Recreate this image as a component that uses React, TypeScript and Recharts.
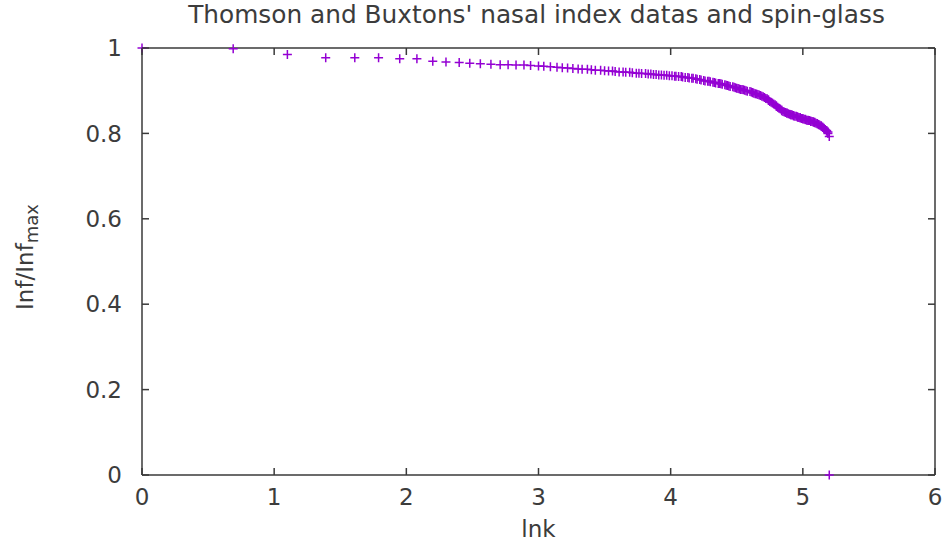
import { ScatterChart, Scatter, XAxis, YAxis } from "recharts";

// ln k for each ranked entry
const lnK = [
  0, 0.69, 1.1, 1.39, 1.61, 1.79, 1.95, 2.08, 2.2, 2.3,
  2.4, 2.48, 2.56, 2.64, 2.71, 2.77, 2.83, 2.89, 2.94, 3.0,
  3.04, 3.09, 3.14, 3.18, 3.22, 3.26, 3.3, 3.33, 3.37, 3.4,
  3.43, 3.47, 3.5, 3.53, 3.56, 3.58, 3.61, 3.64, 3.66, 3.69,
  3.71, 3.74, 3.76, 3.78, 3.81, 3.83, 3.85, 3.87, 3.89, 3.91,
  3.93, 3.95, 3.97, 3.99, 4.01, 4.03, 4.04, 4.06, 4.08, 4.09,
  4.11, 4.13, 4.14, 4.16, 4.17, 4.19, 4.2, 4.22, 4.23, 4.25,
  4.26, 4.28, 4.29, 4.3, 4.32, 4.33, 4.34, 4.36, 4.37, 4.38,
  4.39, 4.41, 4.42, 4.43, 4.44, 4.45, 4.47, 4.48, 4.49, 4.5,
  4.51, 4.52, 4.53, 4.54, 4.55, 4.56, 4.57, 4.58, 4.6, 4.61,
  4.62, 4.62, 4.63, 4.64, 4.65, 4.66, 4.67, 4.68, 4.69, 4.7,
  4.71, 4.72, 4.73, 4.74, 4.74, 4.75, 4.76, 4.77, 4.78, 4.79,
  4.8, 4.8, 4.81, 4.82, 4.83, 4.84, 4.84, 4.85, 4.86, 4.87,
  4.88, 4.88, 4.89, 4.9, 4.91, 4.91, 4.92, 4.93, 4.93, 4.94,
  4.95, 4.96, 4.96, 4.97, 4.98, 4.98, 4.99, 5.0, 5.0, 5.01,
  5.02, 5.02, 5.03, 5.04, 5.04, 5.05, 5.06, 5.06, 5.07, 5.08,
  5.08, 5.09, 5.09, 5.1, 5.11, 5.11, 5.12, 5.12, 5.13, 5.14,
  5.14, 5.15, 5.15, 5.16, 5.16, 5.17, 5.18, 5.18, 5.19, 5.19,
  5.2, 5.2,
];

// Inf / Inf_max
const infRatio = [
  1.0, 0.998, 0.985, 0.977, 0.977, 0.977, 0.975, 0.975, 0.969, 0.967,
  0.966, 0.964, 0.963, 0.962, 0.961, 0.961, 0.96, 0.96, 0.959, 0.958,
  0.957, 0.956, 0.955, 0.954, 0.953, 0.952, 0.951, 0.95, 0.95, 0.949,
  0.948, 0.948, 0.947, 0.946, 0.946, 0.945, 0.944, 0.944, 0.943, 0.943,
  0.942, 0.941, 0.941, 0.94, 0.94, 0.939, 0.939, 0.938, 0.938, 0.937,
  0.937, 0.936, 0.936, 0.935, 0.935, 0.934, 0.934, 0.933, 0.933, 0.932,
  0.931, 0.931, 0.93, 0.929, 0.929, 0.928, 0.927, 0.926, 0.925, 0.924,
  0.923, 0.922, 0.922, 0.921, 0.92, 0.919, 0.918, 0.917, 0.917, 0.916,
  0.915, 0.914, 0.913, 0.912, 0.911, 0.91, 0.909, 0.908, 0.907, 0.906,
  0.905, 0.904, 0.903, 0.903, 0.902, 0.901, 0.9, 0.899, 0.898, 0.897,
  0.896, 0.895, 0.894, 0.893, 0.892, 0.891, 0.89, 0.889, 0.887, 0.886,
  0.884, 0.882, 0.881, 0.879, 0.877, 0.875, 0.873, 0.871, 0.869, 0.867,
  0.865, 0.863, 0.861, 0.859, 0.857, 0.855, 0.853, 0.851, 0.85, 0.849,
  0.848, 0.847, 0.846, 0.845, 0.844, 0.843, 0.843, 0.842, 0.841, 0.84,
  0.84, 0.839, 0.838, 0.837, 0.837, 0.836, 0.835, 0.835, 0.834, 0.833,
  0.833, 0.832, 0.831, 0.831, 0.83, 0.83, 0.829, 0.828, 0.828, 0.827,
  0.826, 0.826, 0.825, 0.824, 0.823, 0.822, 0.821, 0.82, 0.819, 0.818,
  0.816, 0.815, 0.814, 0.812, 0.811, 0.809, 0.807, 0.805, 0.803, 0.8,
  0.793, 0,
];

const xTicks = [0, 1, 2, 3, 4, 5, 6];
const yTicks = [0, 0.2, 0.4, 0.6, 0.8, 1];

const data = lnK.map((x, i) => ({ x, y: infRatio[i] }));

const FONT = "'DejaVu Sans', sans-serif";
const TEXT = "#3c3c3c";
const BORDER = "#3a3a3a";
const PURPLE = "#9400d3";
const TICK_LEN = 7;
const X_GAP = 14;
const Y_GAP = 20;

const PlusMark = (props: any) => {
  const { cx, cy } = props;
  if (cx == null || cy == null) return null;
  const r = 4.5;
  return (
    <path
      d={`M${cx - r},${cy}H${cx + r}M${cx},${cy - r}V${cy + r}`}
      stroke={PURPLE}
      strokeWidth={1.5}
      fill="none"
    />
  );
};

// invisible series that keeps the mirrored top/right axes alive
const NoMark = () => <g />;

const BottomTick = ({ x, y, payload }: any) => (
  <g>
    <line x1={x} x2={x} y1={y - X_GAP} y2={y - X_GAP - TICK_LEN} stroke={BORDER} strokeWidth={1.5} />
    <text x={x} y={y} dy="0.71em" textAnchor="middle" fontFamily={FONT} fontSize={23} fill={TEXT}>
      {payload.value}
    </text>
  </g>
);

const LeftTick = ({ x, y, payload }: any) => (
  <g>
    <line x1={x + Y_GAP} x2={x + Y_GAP + TICK_LEN} y1={y} y2={y} stroke={BORDER} strokeWidth={1.5} />
    <text x={x} y={y} dy="0.355em" textAnchor="end" fontFamily={FONT} fontSize={23} fill={TEXT}>
      {payload.value}
    </text>
  </g>
);

const TopTick = ({ x, y }: any) => (
  <line x1={x} x2={x} y1={y} y2={y + TICK_LEN} stroke={BORDER} strokeWidth={1.5} />
);

const RightTick = ({ x, y }: any) => (
  <line x1={x} x2={x - TICK_LEN} y1={y} y2={y} stroke={BORDER} strokeWidth={1.5} />
);

export default function App() {
  return (
    <div style={{ position: "absolute", left: 0, top: 0, background: "#fff" }}>
      <ScatterChart
        width={946}
        height={547}
        margin={{ top: 47, right: 10, bottom: 32, left: 82 }}
      >
        <XAxis
          xAxisId="b"
          dataKey="x"
          type="number"
          domain={[0, 6]}
          ticks={xTicks}
          height={40}
          tickSize={0}
          tickMargin={X_GAP}
          tick={<BottomTick />}
          axisLine={{ stroke: BORDER, strokeWidth: 1.5 }}
          label={{
            content: (p: any) => (
              <text
                x={p.viewBox.x + p.viewBox.width / 2}
                y={537}
                textAnchor="middle"
                fontFamily={FONT}
                fontSize={23}
                fill={TEXT}
              >
                lnk
              </text>
            ),
          }}
        />
        <XAxis
          xAxisId="t"
          orientation="top"
          dataKey="x"
          type="number"
          domain={[0, 6]}
          ticks={xTicks}
          height={1}
          tickSize={0}
          tickMargin={0}
          tick={<TopTick />}
          axisLine={{ stroke: BORDER, strokeWidth: 1.5 }}
          label={{
            content: (p: any) => (
              <text
                x={p.viewBox.x + p.viewBox.width / 2 - 2}
                y={23}
                textAnchor="middle"
                fontFamily={FONT}
                fontSize={24.8}
                fill={TEXT}
              >
                Thomson and Buxtons' nasal index datas and spin-glass
              </text>
            ),
          }}
        />
        <YAxis
          yAxisId="l"
          dataKey="y"
          type="number"
          domain={[0, 1]}
          ticks={yTicks}
          width={60}
          tickSize={0}
          tickMargin={Y_GAP}
          tick={<LeftTick />}
          axisLine={{ stroke: BORDER, strokeWidth: 1.5 }}
          label={{
            content: () => (
              <text
                x={33}
                y={257}
                transform="rotate(-90 33 257)"
                textAnchor="middle"
                fontFamily={FONT}
                fontSize={23}
                fill={TEXT}
              >
                Inf/Inf
                <tspan fontSize={18} dy={5}>max</tspan>
              </text>
            ),
          }}
        />
        <YAxis
          yAxisId="r"
          orientation="right"
          dataKey="y"
          type="number"
          domain={[0, 1]}
          ticks={yTicks}
          width={1}
          tickSize={0}
          tickMargin={0}
          tick={<RightTick />}
          axisLine={{ stroke: BORDER, strokeWidth: 1.5 }}
        />
        <Scatter
          data={data}
          xAxisId="t"
          yAxisId="r"
          shape={<NoMark />}
          isAnimationActive={false}
        />
        <Scatter
          data={data}
          xAxisId="b"
          yAxisId="l"
          shape={<PlusMark />}
          isAnimationActive={false}
        />
      </ScatterChart>
    </div>
  );
}
